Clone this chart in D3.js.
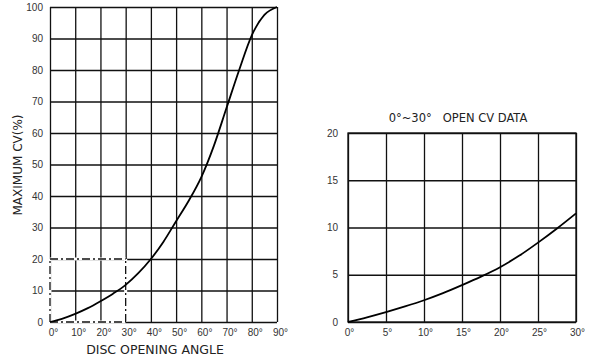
<!DOCTYPE html>
<html><head><meta charset="utf-8">
<script src="https://cdn.jsdelivr.net/npm/d3@7"></script>
<style>
body{margin:0;background:#fff;}
svg{display:block;}
text{font-family:"Liberation Sans",Arial,sans-serif;}
text.lbl{font-family:"DejaVu Sans",sans-serif;}
</style></head>
<body>
<svg id="c" width="590" height="361"></svg>
<script>
// Main chart data
const mainAngles = [0, 5, 10, 15, 20, 25, 30, 35, 40, 45, 50, 55, 60, 65, 70, 75, 80, 85, 90];
const mainCv =     [0, 1.1, 2.6, 4.4, 6.6, 9.0, 11.8, 15.5, 20, 25.5, 32, 38.5, 46, 56, 68, 80, 91, 97.5, 100];
const mainXTicks = [0, 10, 20, 30, 40, 50, 60, 70, 80, 90];
const mainYTicks = [0, 10, 20, 30, 40, 50, 60, 70, 80, 90, 100];
// Inset chart data
const insetAngles = [0, 2.5, 5, 7.5, 10, 12.5, 15, 17.5, 20, 22.5, 25, 27.5, 30];
const insetCv =     [0, 0.5, 1.05, 1.65, 2.3, 3.05, 3.9, 4.8, 5.8, 7.0, 8.4, 9.9, 11.5];
const insetXTicks = [0, 5, 10, 15, 20, 25, 30];
const insetYTicks = [0, 5, 10, 15, 20];
const highlightBox = {angle: 30, cv: 20};

const svg = d3.select("#c");

function panel(opts){
  const g = svg.append("g");
  const x = d3.scaleLinear().domain(opts.xDomain).range([opts.x0, opts.x1]);
  const y = d3.scaleLinear().domain(opts.yDomain).range([opts.y0, opts.y1]);
  g.append("g").attr("transform",`translate(0,${opts.y0})`)
    .call(d3.axisBottom(x).tickValues(opts.xTicks).tickSize(-(opts.y0-opts.y1)).tickFormat(d=>d+"°"))
    .call(a=>a.select(".domain").remove())
    .call(a=>a.selectAll("line").attr("stroke","#111").attr("stroke-width",1.3))
    .call(a=>a.selectAll("text").attr("dy","1.05em").attr("dx",opts.xdx||0).attr("font-size",10).attr("fill","#333"));
  g.append("g").attr("transform",`translate(${opts.x0},0)`)
    .call(d3.axisLeft(y).tickValues(opts.yTicks).tickSize(-(opts.x1-opts.x0)).tickPadding(opts.ypad))
    .call(a=>a.select(".domain").remove())
    .call(a=>a.selectAll("line").attr("stroke","#111").attr("stroke-width",1.3))
    .call(a=>a.selectAll("text").attr("font-size",10).attr("fill","#333"));
  return {g,x,y};
}

// main
const m = panel({xDomain:[0,90], yDomain:[0,100], x0:50, x1:277, y0:322, y1:7,
  xTicks:mainXTicks, yTicks:mainYTicks, ypad:7, xdx:3});
const bx = m.x(highlightBox.angle), by = m.y(highlightBox.cv);
const x0 = m.x(0), y0 = m.y(0);
const edges = [[x0,by,bx,by],[bx,y0,bx,by],[x0,y0,bx,y0],[x0,y0,x0,by]];
edges.forEach(l=>{
  m.g.append("line").attr("x1",l[0]).attr("y1",l[1]).attr("x2",l[2]).attr("y2",l[3])
   .attr("stroke","#fff").attr("stroke-width",3);
});
edges.forEach(l=>{
  m.g.append("line").attr("x1",l[0]).attr("y1",l[1]).attr("x2",l[2]).attr("y2",l[3])
   .attr("stroke","#111").attr("stroke-width",1.3).attr("stroke-dasharray","8,3,2,3");
});
m.g.append("path").attr("fill","none").attr("stroke","#000").attr("stroke-width",1.8)
  .attr("d", d3.line().x((d,i)=>m.x(mainAngles[i])).y(d=>m.y(d)).curve(d3.curveMonotoneX)(mainCv));

svg.append("text").attr("class","lbl").attr("x",155).attr("y",354).attr("text-anchor","middle")
  .attr("font-size",12.5).attr("fill","#222").text("DISC OPENING ANGLE");
svg.append("text").attr("class","lbl").attr("transform","translate(22,165) rotate(-90)").attr("text-anchor","middle")
  .attr("font-size",12).attr("fill","#222").text("MAXIMUM CV(%)");

// inset
const n = panel({xDomain:[0,30], yDomain:[0,20], x0:348, x1:576, y0:322, y1:133,
  xTicks:insetXTicks, yTicks:insetYTicks, ypad:10, xdx:1});
n.g.append("rect").attr("x",348).attr("y",133).attr("width",228).attr("height",189).attr("fill","none").attr("stroke","#111").attr("stroke-width",1.3);
n.g.append("path").attr("fill","none").attr("stroke","#000").attr("stroke-width",1.8)
  .attr("d", d3.line().x((d,i)=>n.x(insetAngles[i])).y(d=>n.y(d)).curve(d3.curveMonotoneX)(insetCv));
svg.append("text").attr("class","lbl").attr("x",458).attr("y",122).attr("text-anchor","middle")
  .attr("font-size",11.5).attr("fill","#222").style("white-space","pre").text("0°~30°   OPEN CV DATA");
</script>
</body></html>
